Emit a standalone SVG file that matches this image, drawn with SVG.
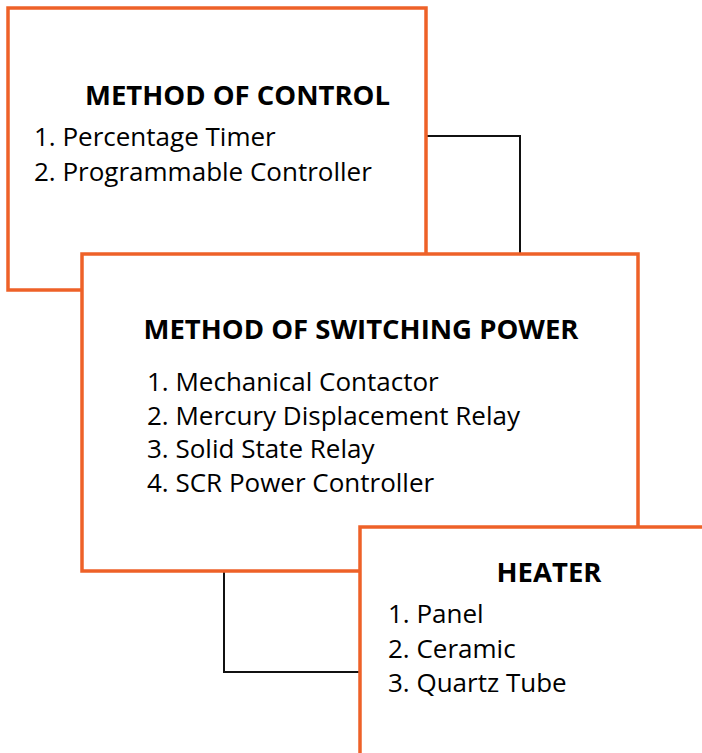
<svg xmlns="http://www.w3.org/2000/svg" width="702" height="753" viewBox="0 0 702 753">
<style>
.box{fill:#fff;stroke:#EE6128;stroke-width:3.5}
.conn{fill:none;stroke:#111;stroke-width:2}
.t{font-family:"Open Sans","Noto Sans",sans-serif;font-weight:bold;font-size:27.5px;fill:#000}
.i{font-family:"Open Sans","Noto Sans",sans-serif;font-size:26px;fill:#000}
</style>
<rect width="702" height="753" fill="#fff"/>
<g id="connectors">
<path class="conn" d="M427,136 H520 V254"/>
<path class="conn" d="M224,572 V672 H360"/>
</g>
<g id="control">
<rect class="box" x="8" y="8" width="418" height="282"/>
<text class="t" x="237.5" y="105" text-anchor="middle">METHOD OF CONTROL</text>
<text class="i" x="34" y="146">1. Percentage Timer</text>
<text class="i" x="34" y="181">2. Programmable Controller</text>
</g>
<g id="switching">
<rect class="box" x="82" y="254" width="556" height="317"/>
<text class="t" x="361" y="339" text-anchor="middle">METHOD OF SWITCHING POWER</text>
<text class="i" x="147" y="391">1. Mechanical Contactor</text>
<text class="i" x="147" y="425">2. Mercury Displacement Relay</text>
<text class="i" x="147" y="458">3. Solid State Relay</text>
<text class="i" x="147" y="492">4. SCR Power Controller</text>
</g>
<g id="heater">
<rect class="box" x="360" y="527" width="360" height="240"/>
<text class="t" x="549" y="582" text-anchor="middle">HEATER</text>
<text class="i" x="388" y="623">1. Panel</text>
<text class="i" x="388" y="658">2. Ceramic</text>
<text class="i" x="388" y="692">3. Quartz Tube</text>
</g>
</svg>
